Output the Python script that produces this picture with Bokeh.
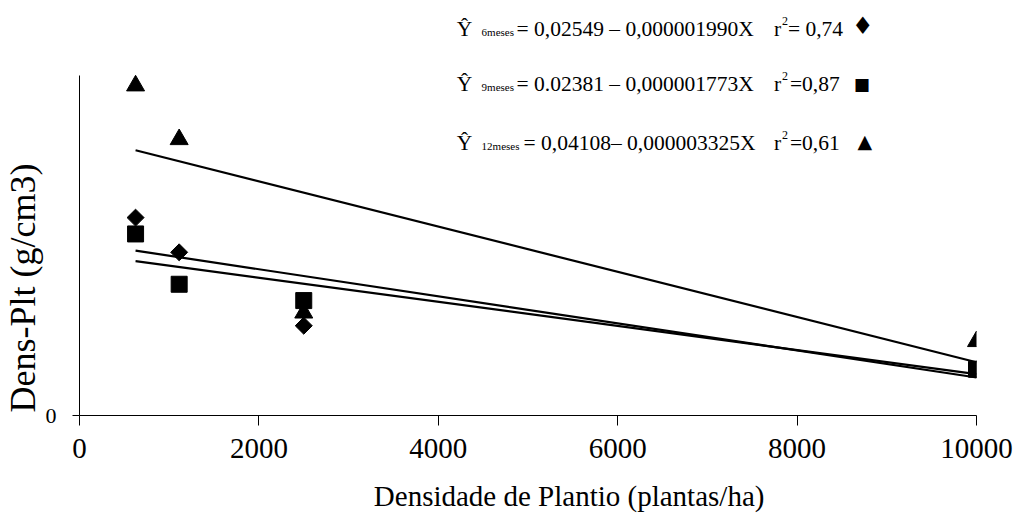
from bokeh.plotting import figure
from bokeh.models import Range1d, FixedTicker, Label, Title
from bokeh.layouts import column
from bokeh.embed import file_html
from bokeh.resources import INLINE

# ---- data ----
densidade = [625, 1111, 2500, 10000]
meses6 = [0.0291, 0.0240, 0.0132, 0.0068]
meses9 = [0.0267, 0.0193, 0.0169, 0.0068]
meses12 = [0.0485, 0.0406, 0.0151, 0.0109]

# regression coefficients (intercept, slope)
coef6 = (0.02549, -0.000001990)
coef9 = (0.02381, -0.000001773)
coef12 = (0.04108, -0.000003325)
line_x = [625, 10000]

x_ticks = [0, 2000, 4000, 6000, 8000, 10000]
y_ticks = [0]

X_MAX = 10000
Y_MAX = 0.05

SERIF = "Liberation Serif"

W = 1013
AXIS_TOP = 75          # page y of the top of the y axis (y = Y_MAX)
FB = 415               # page y of the x axis (y = 0)
AXIS_B = 60            # bottom border of main figure (x axis)
H = FB + AXIS_B
BOT_H = 515 - H
ML, MR = 77, 37
FL, FR = ML, W - MR

PX_PER_Y = (FB - AXIS_TOP) / Y_MAX
Y_TOP = FB / PX_PER_Y  # frame reaches the top of the page; axis line is bounded


def dx(px):
    return (px - FL) / (FR - FL) * X_MAX


def dy(py):
    return (FB - py) / PX_PER_Y


# ---- main plot ----
p = figure(width=W, height=H, output_backend="svg", toolbar_location=None,
           x_range=Range1d(0, X_MAX), y_range=Range1d(0, Y_TOP),
           min_border_left=ML, min_border_right=MR, min_border_top=0, min_border_bottom=AXIS_B)
p.outline_line_color = None
p.xgrid.visible = False
p.ygrid.visible = False

# axes
xa = p.xaxis[0]
xa.ticker = FixedTicker(ticks=x_ticks)
xa.minor_tick_line_color = None
xa.major_tick_in = 0
xa.major_tick_out = 10
xa.major_label_standoff = 13
xa.major_label_text_font = SERIF
xa.major_label_text_font_size = "29px"
xa.major_label_text_color = "black"
xa.axis_line_color = "black"
xa.major_tick_line_color = "black"

ya = p.yaxis[0]
ya.ticker = FixedTicker(ticks=y_ticks)
ya.bounds = (0, Y_MAX)
ya.minor_tick_line_color = None
ya.major_tick_in = 0
ya.major_tick_out = 7
ya.major_label_standoff = 16
ya.major_label_text_font = SERIF
ya.major_label_text_font_size = "22px"
ya.major_label_text_color = "black"
ya.axis_line_color = "black"
ya.major_tick_line_color = "black"

p.add_layout(Title(text="Dens-Plt (g/cm3)", align="left", offset=3,
                   text_font=SERIF, text_font_size="36px", text_font_style="normal",
                   text_color="black", standoff=0), "left")

# regression lines
for a, b in (coef6, coef9, coef12):
    p.line(line_x, [a + b * x for x in line_x], line_color="black", line_width=2.2)

# points
p.scatter(densidade, meses12, marker="triangle", size=18, fill_color="black", line_color="black")
p.scatter(densidade, meses6, marker="square", size=12, angle=0.785398,
          fill_color="black", line_color="black")
p.scatter(densidade, meses9, marker="square", size=16, fill_color="black", line_color="black")

# ---- bottom strip holding the x axis title (data y == page y) ----
bottom = figure(width=W, height=BOT_H, output_backend="svg", toolbar_location=None,
                x_range=Range1d(0, X_MAX), y_range=Range1d(H + BOT_H, H),
                x_axis_location=None, y_axis_location=None,
                min_border_left=ML, min_border_right=MR, min_border_top=0, min_border_bottom=0)
bottom.outline_line_color = None
bottom.xgrid.visible = False
bottom.ygrid.visible = False


def lab(fig, text, x, y, size, font=SERIF, align="left", baseline="alphabetic"):
    fig.add_layout(Label(x=x, y=y, text=text, text_font=font,
                         text_font_size=size, text_color="black", text_align=align,
                         text_baseline=baseline))


lab(bottom, "Densidade de Plantio (plantas/ha)", dx(372), 495, "29px")

# equations (page positions)
rows = [
    ("6meses", "= 0,02549 \u2013 0,000001990X", "= 0,74", "\u2666", 28, 515, 787, 862, 25, "24px"),
    ("9meses", "= 0.02381 \u2013 0,000001773X", "=0,87", "\u25a0", 83, 515, 789, 861, 83, "17px"),
    ("12meses", "= 0,04108\u2013 0,000003325X", "=0,61", "\u25b2", 142, 522, 789, 864, 140, "19px"),
]
for sub, eq, r2, mk, base, eqx, r2x, mkx, mky, mks in rows:
    lab(p, "\u0176", dx(455), dy(base), "21.5px")
    lab(p, sub, dx(480), dy(base + 3), "11px")
    lab(p, eq, dx(eqx), dy(base), "21.5px")
    lab(p, "r", dx(773), dy(base), "21.5px")
    lab(p, "2", dx(781), dy(base - 8), "12px")
    lab(p, r2, dx(r2x), dy(base), "21.5px")
    lab(p, mk, dx(mkx), dy(mky), mks, font="DejaVu Sans", align="center", baseline="middle")

layout = column(p, bottom, spacing=0)
open("out.html", "w").write(file_html(layout, INLINE))
